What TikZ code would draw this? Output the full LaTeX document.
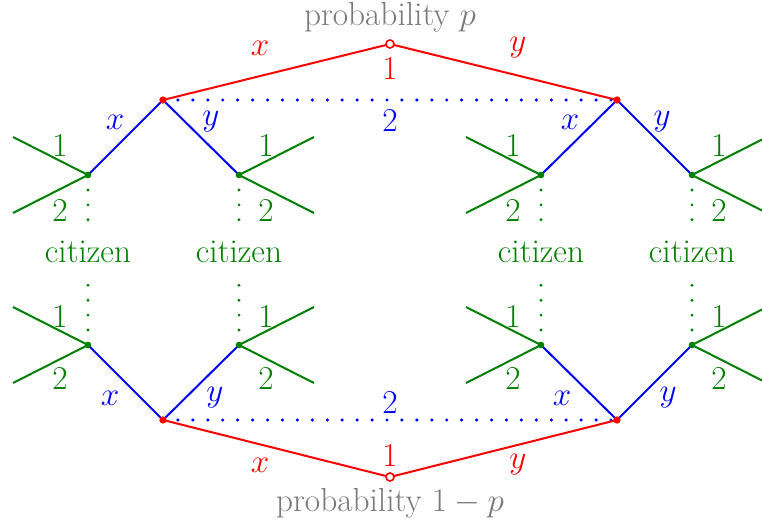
\documentclass[tikz,border=0pt]{standalone}
\begin{document}
\begin{tikzpicture}[x=0.75pt,y=-0.75pt,
  every node/.style={font=\fontsize{25}{30}\selectfont},
  grn/.style={green!50!black},
  rline/.style={red,line width=1.5pt},
  bline/.style={blue,line width=1.5pt},
  gline/.style={green!50!black,line width=1.5pt},
  bdots/.style={blue,line width=2.6pt,line cap=round,dash pattern=on 0pt off 11.2pt},
  gdots/.style={green!50!black,line width=2.4pt,line cap=round,dash pattern=on 0pt off 11.2pt},
  rdot/.style={circle,fill=red,inner sep=0pt,minimum size=5.5pt},
  gdot/.style={circle,fill=green!50!black,inner sep=0pt,minimum size=5pt},
  odot/.style={circle,draw=red,fill=white,line width=1.2pt,inner sep=0pt,minimum size=6pt},
  lab/.style={inner sep=0pt}]
\useasboundingbox (0,0) rectangle (762,520);
\clip (0,0) rectangle (762,520);
% chance nodes
\coordinate (ct) at (390,44);
\coordinate (cb) at (390,477);
% player nodes
\coordinate (tl) at (163,100);
\coordinate (tr) at (617,100);
\coordinate (bl) at (163,420);
\coordinate (br) at (617,420);
% citizen nodes
\coordinate (a1) at (88,175);  \coordinate (a2) at (239,175);
\coordinate (a3) at (541,175); \coordinate (a4) at (692,175);
\coordinate (b1) at (88,345);  \coordinate (b2) at (239,345);
\coordinate (b3) at (541,345); \coordinate (b4) at (692,345);
% citizen labels
\node[grn,lab] (c1) at (88,252) {citizen};
\node[grn,lab] (c2) at (239,252) {citizen};
\node[grn,lab] (c3) at (541,252) {citizen};
\node[grn,lab] (c4) at (692,252) {citizen};
% dotted info sets
\draw[bdots] (tl) -- (tr);
\draw[bdots] (bl) -- (br);
\foreach \i in {1,2,3,4}{
  \draw[gdots] (a\i) -- (a\i |- 0,222);
  \draw[gdots] (b\i) -- (b\i |- 0,278);
}
% red lines
\draw[rline] (tl) -- (ct) -- (tr);
\draw[rline] (bl) -- (cb) -- (br);
% blue lines
\draw[bline] (a1) -- (tl) -- (a2);
\draw[bline] (a3) -- (tr) -- (a4);
\draw[bline] (b1) -- (bl) -- (b2);
\draw[bline] (b3) -- (br) -- (b4);
% green lines
\foreach \n/\d in {a1/-1,b1/-1,a3/-1,b3/-1,a2/1,b2/1,a4/1,b4/1}{
  \draw[gline] (\n) -- ++(\d*75,-38);
  \draw[gline] (\n) -- ++(\d*75,38);
}
% dots
\node[odot] (oct) at (ct) {};
\node[odot] (ocb) at (cb) {};
\foreach \n in {tl,tr,bl,br} \node[rdot] at (\n) {};
\foreach \n in {a1,a2,a3,a4,b1,b2,b3,b4} \node[gdot] at (\n) {};
% texts
\node[gray!95!black,lab] (pt) at (390,17) {probability $p$};
\node[gray!95!black,lab] (pb) at (390,503) {probability $1-p$};
\node[red,lab] at (390,68) {1};
\node[red,lab] at (390,455) {1};
\node[blue,lab] at (390,120) {2};
\node[blue,lab] at (390,402) {2};
\node[red,lab] at (260,48) {$x$};
\node[red,lab] at (518,48) {$y$};
\node[red,lab] at (260,465) {$x$};
\node[red,lab] at (518,465) {$y$};
\node[blue,lab] at (115,122) {$x$};
\node[blue,lab] at (211,122) {$y$};
\node[blue,lab] at (570,122) {$x$};
\node[blue,lab] at (662,122) {$y$};
\node[blue,lab] at (110,398) {$x$};
\node[blue,lab] at (215,398) {$y$};
\node[blue,lab] at (562,398) {$x$};
\node[blue,lab] at (668,398) {$y$};
\foreach \xx in {60,266,513,719}{
  \node[grn,lab] at (\xx,145) {1};
  \node[grn,lab] at (\xx,210) {2};
  \node[grn,lab] at (\xx,316) {1};
  \node[grn,lab] at (\xx,378) {2};
}
\end{tikzpicture}
\end{document}
